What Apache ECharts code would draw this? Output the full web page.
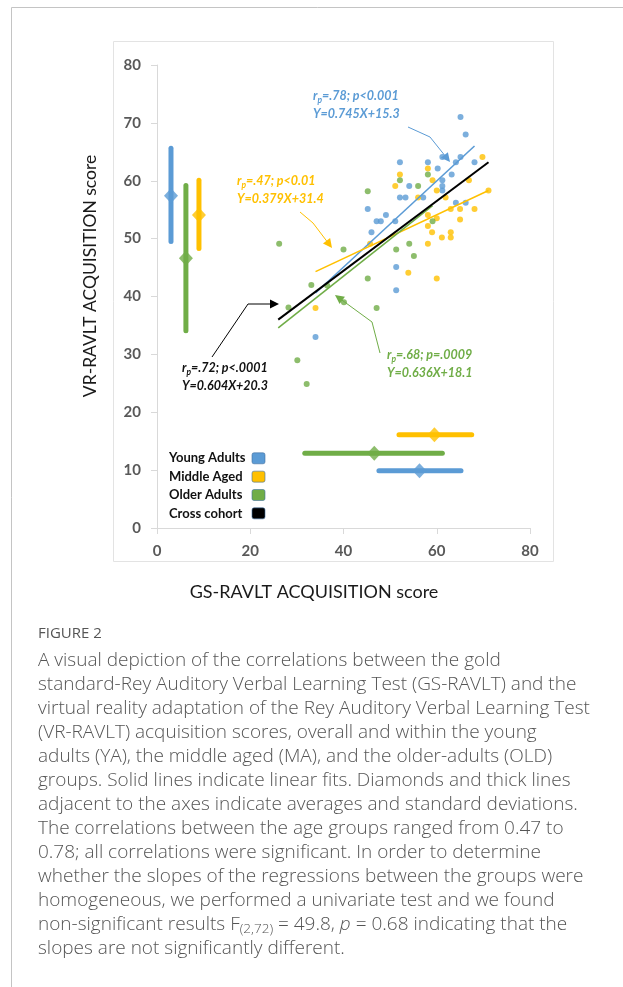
<!DOCTYPE html>
<html><head><meta charset="utf-8">
<script src="https://cdn.jsdelivr.net/npm/echarts@6/dist/echarts.min.js"></script>
<style>html,body{margin:0;padding:0;background:#fff;}#c{width:623px;height:987px;}</style>
</head><body><div id="c"></div>
<script>
// ---- data ----
const xTicks = [0, 20, 40, 60, 80];
const yTicks = [0, 10, 20, 30, 40, 50, 60, 70, 80];

const youngAdults = [[65.1,71.0],[66.2,68.0],[61.2,64.1],[64.1,63.2],[65.1,64.1],[68.1,63.2],[52.1,63.2],[58.1,63.2],[60.2,62.1],[63.2,61.1],[61.2,60.1],[61.2,59.1],[61.2,58.3],[54.1,59.1],[57.1,57.1],[52.1,57.1],[53.3,57.1],[45.2,55.1],[47.1,53.0],[48.0,53.0],[49.1,54.1],[51.1,53.0],[64.1,56.2],[66.2,56.2],[46.0,51.1],[51.3,45.1],[51.3,41.1],[34.0,33.0]];
const middleAged = [[69.8,64.1],[58.1,62.1],[59.1,60.1],[51.1,59.1],[52.1,61.1],[66.9,60.1],[60.0,58.3],[56.0,57.1],[61.9,57.1],[71.1,58.3],[63.0,55.1],[65.0,55.1],[68.1,55.1],[58.1,54.1],[60.0,53.5],[65.0,53.3],[58.1,52.2],[59.0,51.1],[63.0,51.1],[63.0,50.2],[61.1,50.2],[58.1,49.1],[53.9,44.1],[60.0,43.1],[34.0,38.0],[45.7,49.1]];
const olderAdults = [[58.1,61.1],[52.1,60.1],[56.0,59.1],[45.2,58.2],[59.1,53.0],[40.0,48.1],[54.1,49.1],[51.3,48.1],[55.1,47.0],[45.2,43.1],[33.1,42.0],[36.5,41.9],[28.2,38.1],[40.1,39.0],[47.1,38.0],[30.1,29.0],[32.1,24.9],[26.2,49.1]];

// linear fit end points
const fitYA  = [[34.0,40.6],[68.1,66.0]];
const fitMA  = [[34.0,44.3],[71.1,58.3]];
const fitOLD = [[26.0,34.6],[59.1,55.7]];
const fitAll = [[26.0,36.0],[71.1,63.2]];

// means and SD bars next to the axes
const sdVertYA  = [[3.0,49.5],[3.0,65.6]];   const meanVertYA  = [[3.0,57.4]];
const sdVertMA  = [[9.0,48.3],[9.0,60.1]];   const meanVertMA  = [[9.0,54.1]];
const sdVertOLD = [[6.2,34.1],[6.2,59.2]];   const meanVertOLD = [[6.2,46.6]];
const sdHorYA   = [[47.6,9.9],[65.2,9.9]];   const meanHorYA   = [[56.3,9.9]];
const sdHorMA   = [[51.9,16.1],[67.5,16.1]]; const meanHorMA   = [[59.5,16.1]];
const sdHorOLD  = [[31.7,12.9],[61.2,12.9]]; const meanHorOLD  = [[46.6,12.9]];

const groupNames = ['Young Adults','Middle Aged','Older Adults','Cross cohort'];
const captionLines = [
 'A visual depiction of the correlations between the gold',
 'standard-Rey Auditory Verbal Learning Test (GS-RAVLT) and the',
 'virtual reality adaptation of the Rey Auditory Verbal Learning Test',
 '(VR-RAVLT) acquisition scores, overall and within the young',
 'adults (YA), the middle aged (MA), and the older-adults (OLD)',
 'groups. Solid lines indicate linear fits. Diamonds and thick lines',
 'adjacent to the axes indicate averages and standard deviations.',
 'The correlations between the age groups ranged from 0.47 to',
 '0.78; all correlations were significant. In order to determine',
 'whether the slopes of the regressions between the groups were',
 'homogeneous, we performed a univariate test and we found',
 '{t|non-significant results F}{s|(2,72)}{t| = 49.8, }{i|p}{t| = 0.68 indicating that the}',
 'slopes are not significantly different.'
];

// ---- style ----
const C = {YA:'#5b9bd5', MA:'#ffc000', OLD:'#70ad47', ALL:'#000000'};
const FONT = 'Lato';
const CAPFONT = 'Open Sans';

function scatter(name, data, color){
  return {type:'scatter', name, data, symbolSize:6, itemStyle:{color}, z:2, silent:true};
}
function fit(data, color, w){
  return {type:'line', data, showSymbol:false, symbol:'none', lineStyle:{color, width:w||1.6}, z:4, silent:true};
}
function sdBar(data, color){
  return {type:'line', data, showSymbol:false, symbol:'none', lineStyle:{color, width:5, cap:'round'}, z:3, silent:true};
}
function meanMark(data, color){
  return {type:'scatter', data, symbol:'diamond', symbolSize:[14,15], itemStyle:{color}, z:5, silent:true};
}

function arrow(points, color, lw){
  const n = points.length;
  const tip = points[n-1], prev = points[n-2];
  let dx = tip[0]-prev[0], dy = tip[1]-prev[1];
  const L = Math.hypot(dx,dy); dx/=L; dy/=L;
  const hl = 9, hw = 4.5;
  const bx = tip[0]-dx*hl, by = tip[1]-dy*hl;
  const line = points.slice(0, n-1).concat([[bx+dx*2, by+dy*2]]);
  return [
    {type:'polyline', shape:{points:line}, style:{stroke:color, lineWidth:lw||1, fill:null}, z:10},
    {type:'polygon', shape:{points:[tip,[bx-dy*hw, by+dx*hw],[bx+dy*hw, by-dx*hw]]}, style:{fill:color}, z:10}
  ];
}
function ann(left, top, color, r, eq){
  const base = {fontFamily:FONT, fontStyle:'italic', fontWeight:'bold', fill:color, fontSize:12.5, lineHeight:18};
  return {type:'text', left, top, z:10, style:{
    text:'{a|r}{s|p}{a|' + r + '}\n{a|' + eq + '}',
    rich:{a:Object.assign({verticalAlign:'middle'}, base), s:Object.assign({}, base, {fontSize:8.5, verticalAlign:'bottom'})}
  }};
}

const graphics = [];
// frames
graphics.push({type:'polyline', shape:{points:[[11.5,987],[11.5,7.5],[623,7.5]]}, style:{stroke:'#c4c4c4', lineWidth:1, fill:null}});
graphics.push({type:'rect', shape:{x:113.5, y:41.5, width:440, height:520}, style:{stroke:'#e3e3e3', lineWidth:1, fill:null}});
// axis titles
graphics.push({type:'text', x:90, y:276, rotation:Math.PI/2, style:{text:'VR-RAVLT ACQUISITION score', fontFamily:FONT, fontSize:17.5, fill:'#1a1a1a', align:'center', verticalAlign:'middle'}});
graphics.push({type:'text', x:314, y:592, style:{text:'GS-RAVLT ACQUISITION score', fontFamily:FONT, fontSize:18, fill:'#1a1a1a', align:'center', verticalAlign:'middle'}});
// annotations
graphics.push(ann(313, 89, C.YA, '=.78; p<0.001', 'Y=0.745X+15.3'));
graphics.push(ann(237, 174, C.MA, '=.47; p<0.01', 'Y=0.379X+31.4'));
graphics.push(ann(387, 348, C.OLD, '=.68; p=.0009', 'Y=0.636X+18.1'));
graphics.push(ann(182, 361, '#111', '=.72; p<.0001', 'Y=0.604X+20.3'));
graphics.push(...arrow([[408,127],[430,137],[450,162]], C.YA));
graphics.push(...arrow([[300,212],[313,223],[332,248]], C.MA));
graphics.push(...arrow([[380,353],[372,322],[335,295]], C.OLD));
graphics.push(...arrow([[212,357],[248,304],[279,304]], '#000'));
// legend
const legColors = [C.YA, C.MA, C.OLD, C.ALL];
groupNames.forEach((nm, i) => {
  const cy = 458.3 + i*18.35;
  graphics.push({type:'text', x:169, y:cy, style:{text:nm, fontFamily:FONT, fontWeight:'bold', fontSize:13, fill:'#111', align:'left', verticalAlign:'middle'}});
  graphics.push({type:'rect', shape:{x:252, y:cy-5.5, width:13, height:11, r:2}, style:{fill:legColors[i], stroke:'#3f6f9f', lineWidth:0.6}});
});
// caption
graphics.push({type:'text', x:38, y:634, style:{text:'FIGURE 2', fontFamily:CAPFONT, fontSize:15, fill:'#555', verticalAlign:'middle'}});
captionLines.forEach((ln, i) => {
  const base = {fontFamily:CAPFONT, fontSize:19, fill:'#555555', fontWeight:300, lineHeight:22};
  graphics.push({type:'text', x:38, y:661 + i*24.0, style:{
    text: ln.indexOf('{')===0 ? ln : '{t|' + ln + '}',
    verticalAlign:'middle',
    rich:{ t:Object.assign({verticalAlign:'middle'}, base),
           i:Object.assign({verticalAlign:'middle', fontStyle:'italic'}, base),
           s:Object.assign({}, base, {fontSize:13.5, verticalAlign:'bottom'}) }
  }});
});

const axisCommon = {
  axisLine:{show:true, lineStyle:{color:'#d9d9d9', width:1}},
  axisTick:{show:true, length:6, lineStyle:{color:'#d9d9d9'}},
  splitLine:{show:false},
  axisLabel:{color:'#595959', fontFamily:FONT, fontSize:15, fontWeight:'bold'}
};

const option = {
  animation:false,
  backgroundColor:'#ffffff',
  grid:{left:157, top:65, width:373, height:463, containLabel:false},
  xAxis:Object.assign({type:'value', min:xTicks[0], max:xTicks[xTicks.length-1], interval:20}, axisCommon,
    {axisLabel:Object.assign({}, axisCommon.axisLabel, {margin:16})}),
  yAxis:Object.assign({type:'value', min:yTicks[0], max:yTicks[yTicks.length-1], interval:10}, axisCommon,
    {axisLabel:Object.assign({}, axisCommon.axisLabel, {margin:16})}),
  series:[
    scatter(groupNames[0], youngAdults, C.YA),
    scatter(groupNames[1], middleAged, C.MA),
    scatter(groupNames[2], olderAdults, C.OLD),
    fit(fitYA, C.YA), fit(fitMA, C.MA), fit(fitOLD, C.OLD), fit(fitAll, C.ALL, 2),
    sdBar(sdVertYA, C.YA), sdBar(sdVertMA, C.MA), sdBar(sdVertOLD, C.OLD),
    sdBar(sdHorYA, C.YA), sdBar(sdHorMA, C.MA), sdBar(sdHorOLD, C.OLD),
    meanMark(meanVertYA, C.YA), meanMark(meanVertMA, C.MA), meanMark(meanVertOLD, C.OLD),
    meanMark(meanHorYA, C.YA), meanMark(meanHorMA, C.MA), meanMark(meanHorOLD, C.OLD)
  ],
  graphic:{elements:graphics}
};
const chart = echarts.init(document.getElementById('c'), null, {renderer:'canvas'});
chart.setOption(option);
</script>
</body></html>
